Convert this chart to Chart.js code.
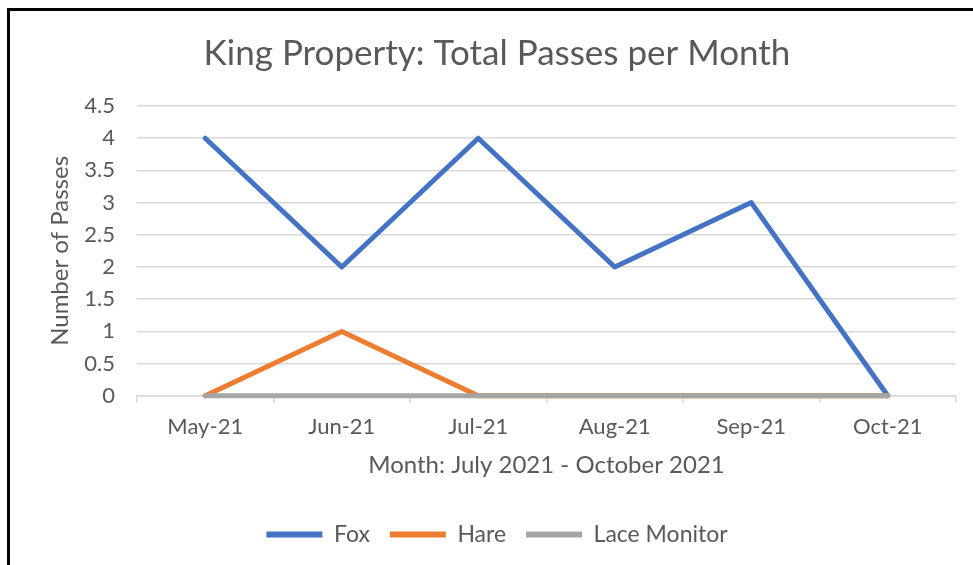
<!DOCTYPE html>
<html>
<head>
<meta charset="utf-8">
<script src="https://cdn.jsdelivr.net/npm/chart.js@4"></script>
<style>
    html, body { margin: 0; padding: 0; background: #fff; overflow: hidden; }
    #frame {
        position: absolute; left: 7px; top: 8px;
        width: 1000px; height: 600px;
        border-left: 3px solid #000; border-top: 3px solid #000;
    }
    #wrap { position: absolute; left: 0; top: 0; width: 973px; height: 565px; }
</style>
</head>
<body>
<div id="frame"></div>
<div id="wrap"><canvas id="passChart"></canvas></div>
<script>
/* Data */
const months = ['May-21', 'Jun-21', 'Jul-21', 'Aug-21', 'Sep-21', 'Oct-21']
const foxPasses = [4, 2, 4, 2, 3, 0]
const harePasses = [0, 1, 0, 0, 0, 0]
const lacePasses = [0, 0, 0, 0, 0, 0]

const textColor = '#595959'
const fontName = 'Lato, "Open Sans", sans-serif'

const makeLine = (label, data, color, order) => ({
    label: label,
    data: data,
    borderColor: color,
    backgroundColor: color,
    borderWidth: 5,
    pointRadius: 0,
    tension: 0,
    clip: false,
    borderCapStyle: 'round',
    borderJoinStyle: 'round',
    order: order
})

const ctx = document.getElementById('passChart').getContext('2d')
new Chart(ctx, {
    type: 'line',
    data: {
        labels: months,
        datasets: [
            makeLine('Fox', foxPasses, '#4472C4', 2),
            makeLine('Hare', harePasses, '#ED7D31', 1),
            makeLine('Lace Monitor', lacePasses, '#A5A5A5', 0)
        ]
    },
    options: {
        responsive: true,
        maintainAspectRatio: false,
        animation: false,
        layout: { padding: { left: 38, right: 17, top: 0, bottom: 9 } },
        plugins: {
            title: {
                display: true,
                text: 'King Property: Total Passes per Month',
                color: textColor,
                font: { family: fontName, size: 35, weight: 'normal' },
                padding: { top: 33, bottom: 31 }
            },
            legend: {
                position: 'bottom',
                labels: {
                    color: textColor,
                    font: { family: fontName, size: 23 },
                    boxWidth: 56,
                    boxHeight: 0,
                    padding: 20,
                    sort: (a, b) => a.datasetIndex - b.datasetIndex,
                    generateLabels: chart => chart.data.datasets.map((ds, i) => ({
                        text: ds.label,
                        datasetIndex: i,
                        strokeStyle: ds.borderColor,
                        fillStyle: ds.borderColor,
                        lineWidth: 6,
                        lineCap: 'round',
                        fontColor: textColor
                    }))
                }
            },
            tooltip: { enabled: false }
        },
        scales: {
            x: {
                offset: true,
                grid: {
                    offset: true,
                    drawOnChartArea: false,
                    drawTicks: true,
                    tickLength: 7,
                    color: '#D9D9D9',
                    lineWidth: 1.5
                },
                border: { display: true, color: '#D9D9D9', width: 1.5 },
                ticks: {
                    color: textColor,
                    font: { family: fontName, size: 22 },
                    padding: 11,
                    maxRotation: 0
                },
                title: {
                    display: true,
                    text: 'Month: July 2021 - October 2021',
                    color: textColor,
                    font: { family: fontName, size: 24 },
                    padding: { top: 0, bottom: 23 }
                }
            },
            y: {
                min: 0,
                max: 4.5,
                afterFit: scale => { scale.width = 99 },
                ticks: {
                    stepSize: 0.5,
                    color: textColor,
                    font: { family: fontName, size: 22 },
                    padding: 22,
                    callback: value => String(value)
                },
                grid: {
                    color: '#D9D9D9',
                    lineWidth: 1.5,
                    drawTicks: false
                },
                border: { display: false },
                title: {
                    display: true,
                    text: 'Number of Passes',
                    color: textColor,
                    font: { family: fontName, size: 24 },
                    padding: { top: 8, bottom: 8 }
                }
            }
        }
    }
})
</script>
</body>
</html>
